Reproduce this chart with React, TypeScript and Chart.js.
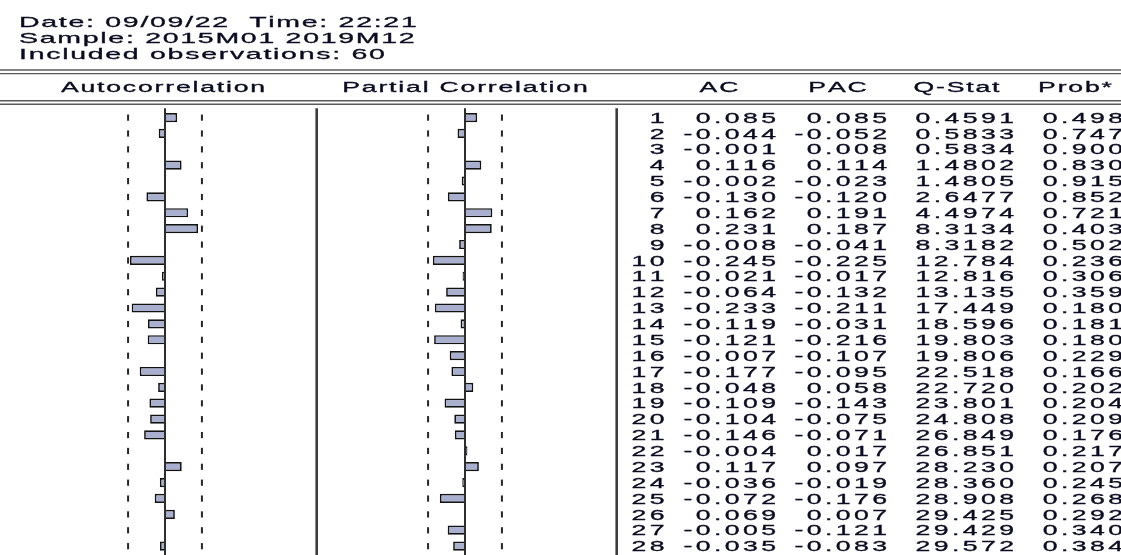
import React, { useEffect, useRef } from "react";
import { Chart, registerables } from "chart.js";

Chart.register(...registerables);

const headerLines = [
  "Date: 09/09/22  Time: 22:21",
  "Sample: 2015M01 2019M12",
  "Included observations: 60",
];
const nObs = 60;
const columnTitles = ["Autocorrelation", "Partial Correlation", "AC", "PAC", "Q-Stat", "Prob*"];

const lags = [
  "1", "2", "3", "4", "5", "6", "7", "8", "9", "10", "11", "12", "13", "14",
  "15", "16", "17", "18", "19", "20", "21", "22", "23", "24", "25", "26", "27", "28",
];
const acValues = [
  0.085, -0.044, -0.001, 0.116, -0.002, -0.13, 0.162, 0.231, -0.008, -0.245, -0.021, -0.064, -0.233, -0.119,
  -0.121, -0.007, -0.177, -0.048, -0.109, -0.104, -0.146, -0.004, 0.117, -0.036, -0.072, 0.069, -0.005, -0.035,
];
const pacValues = [
  0.085, -0.052, 0.008, 0.114, -0.023, -0.12, 0.191, 0.187, -0.041, -0.225, -0.017, -0.132, -0.211, -0.031,
  -0.216, -0.107, -0.095, 0.058, -0.143, -0.075, -0.071, 0.017, 0.097, -0.019, -0.176, 0.007, -0.121, -0.083,
];
const qStat = [
  0.4591, 0.5833, 0.5834, 1.4802, 1.4805, 2.6477, 4.4974, 8.3134, 8.3182, 12.784, 12.816, 13.135, 17.449, 18.596,
  19.803, 19.806, 22.518, 22.72, 23.801, 24.808, 26.849, 26.851, 28.23, 28.36, 28.908, 29.425, 29.429, 29.572,
];
const probValues = [
  0.498, 0.747, 0.9, 0.83, 0.915, 0.852, 0.721, 0.403, 0.502, 0.236, 0.306, 0.359, 0.18, 0.181,
  0.18, 0.229, 0.166, 0.202, 0.204, 0.209, 0.176, 0.217, 0.207, 0.245, 0.268, 0.292, 0.34, 0.384,
];

// layout constants (pixels)
const W = 1121;
const H = 555;
const PX_PER_UNIT = 143;
const AC_ZERO = 165;
const PAC_ZERO = 465;
const SEP1 = 316.7;
const SEP2 = 616.7;
const TEXT_COLOR = "#0b0b22";
const FONT = '"Liberation Sans", Arial, sans-serif';
const SX = 1.9;

function drawStretched(
  ctx: CanvasRenderingContext2D,
  text: string,
  x: number,
  y: number,
  align: "left" | "right" | "center",
  size: number,
  sx: number,
  ls: number
) {
  ctx.save();
  ctx.font = `${size}px ${FONT}`;
  ctx.fillStyle = TEXT_COLOR;
  ctx.strokeStyle = TEXT_COLOR;
  ctx.lineWidth = 0.3;
  ctx.textBaseline = "alphabetic";
  ctx.textAlign = "left";
  const chars = Array.from(text);
  const widths = chars.map((c) => ctx.measureText(c).width);
  const total = (widths.reduce((a, b) => a + b, 0) + ls * (chars.length - 1)) * sx;
  const start = align === "left" ? x : align === "right" ? x - total : x - total / 2;
  ctx.translate(start, y);
  ctx.scale(sx, 1);
  let cx = 0;
  chars.forEach((c, i) => {
    ctx.fillText(c, cx, 0);
    ctx.strokeText(c, cx, 0);
    cx += widths[i] + ls;
  });
  ctx.restore();
}

const correlogramPlugin = {
  id: "correlogram",
  afterDraw(chart: any) {
    const ctx: CanvasRenderingContext2D = chart.ctx;
    const y = chart.scales.y;
    const xac = chart.scales.xac;
    const xpac = chart.scales.xpac;
    const bound = 2 / Math.sqrt(nObs);

    ctx.save();
    // header text
    headerLines.forEach((t, i) => drawStretched(ctx, t, 19, 27.3 + i * 15.9, "left", 15, SX, 0.9));

    // double rules
    ctx.strokeStyle = "#5a5a5a";
    ctx.lineWidth = 1.4;
    [70, 73.6, 100.8, 104.3].forEach((ly) => {
      ctx.beginPath();
      ctx.moveTo(0, ly);
      ctx.lineTo(W, ly);
      ctx.stroke();
    });

    // column titles
    const titleY = 91.6;
    const tls = 0.95;
    drawStretched(ctx, columnTitles[0], xac.getPixelForValue(0) - 2, titleY, "center", 14, SX, tls);
    drawStretched(ctx, columnTitles[1], xpac.getPixelForValue(0), titleY, "center", 14, SX, tls);
    drawStretched(ctx, columnTitles[2], 719, titleY, "center", 14, SX, tls);
    drawStretched(ctx, columnTitles[3], 837.5, titleY, "center", 14, SX, tls);
    drawStretched(ctx, columnTitles[4], 956.5, titleY, "center", 14, SX, tls);
    drawStretched(ctx, columnTitles[5], 1075, titleY, "center", 14, SX, tls);

    // vertical axis/separator lines
    const lineTop = 108.3;
    ctx.strokeStyle = "#2e2e2e";
    ctx.lineWidth = 2;
    [xac.getPixelForValue(0), xpac.getPixelForValue(0)].forEach((lx) => {
      ctx.beginPath();
      ctx.moveTo(lx, lineTop);
      ctx.lineTo(lx, H);
      ctx.stroke();
    });
    ctx.strokeStyle = "#3c3c3c";
    ctx.lineWidth = 2.6;
    [SEP1, SEP2].forEach((lx) => {
      ctx.beginPath();
      ctx.moveTo(lx, lineTop);
      ctx.lineTo(lx, H);
      ctx.stroke();
    });

    // dotted confidence bounds, one dash per row
    ctx.fillStyle = "#262626";
    lags.forEach((_, i) => {
      const cy = y.getPixelForValue(i);
      [xac, xpac].forEach((sc) => {
        [-bound, bound].forEach((b) => {
          const px = sc.getPixelForValue(b);
          ctx.fillRect(px - 1, cy - 3, 2, 6.2);
        });
      });
    });

    // table
    const nls = 1.8;
    lags.forEach((lag, i) => {
      const by = y.getPixelForValue(i) + 5.2;
      drawStretched(ctx, lag, 664.5, by, "right", 14, SX, nls);
      drawStretched(ctx, acValues[i].toFixed(3), 776, by, "right", 14, SX, nls);
      drawStretched(ctx, pacValues[i].toFixed(3), 887, by, "right", 14, SX, nls);
      const q = qStat[i];
      drawStretched(ctx, q < 10 ? q.toFixed(4) : q.toFixed(3), 1014, by, "right", 14, SX, nls);
      drawStretched(ctx, probValues[i].toFixed(3), 1123, by, "right", 14, SX, nls);
    });
    ctx.restore();
  },
};

export default function App() {
  const ref = useRef<HTMLCanvasElement | null>(null);

  useEffect(() => {
    if (!ref.current) return;
    const barStyle = {
      backgroundColor: "#a9b0cf",
      borderColor: "#121212",
      borderWidth: 1.7,
      barPercentage: 0.58,
      categoryPercentage: 1,
      grouped: false,
    };
    const chart = new Chart(ref.current, {
      type: "bar",
      data: {
        labels: lags,
        datasets: [
          { label: "AC", data: acValues, xAxisID: "xac", yAxisID: "y", ...barStyle },
          { label: "PAC", data: pacValues, xAxisID: "xpac", yAxisID: "y", ...barStyle },
        ],
      },
      options: {
        indexAxis: "y",
        animation: false,
        responsive: true,
        maintainAspectRatio: false,
        events: [],
        layout: { padding: { top: 109.6, bottom: 1, left: 0, right: 0 } },
        plugins: { legend: { display: false }, tooltip: { enabled: false } },
        scales: {
          y: { type: "category", axis: "y", display: false, offset: true, grid: { display: false } },
          xac: {
            type: "linear",
            axis: "x",
            position: "bottom",
            display: false,
            min: -AC_ZERO / PX_PER_UNIT,
            max: (W - AC_ZERO) / PX_PER_UNIT,
          },
          xpac: {
            type: "linear",
            axis: "x",
            position: "bottom",
            display: false,
            min: -PAC_ZERO / PX_PER_UNIT,
            max: (W - PAC_ZERO) / PX_PER_UNIT,
          },
        },
      } as any,
      plugins: [correlogramPlugin],
    });
    return () => chart.destroy();
  }, []);

  return (
    <div style={{ position: "absolute", left: 0, top: 0, width: W, height: H, background: "#fff" }}>
      <canvas ref={ref} />
    </div>
  );
}
